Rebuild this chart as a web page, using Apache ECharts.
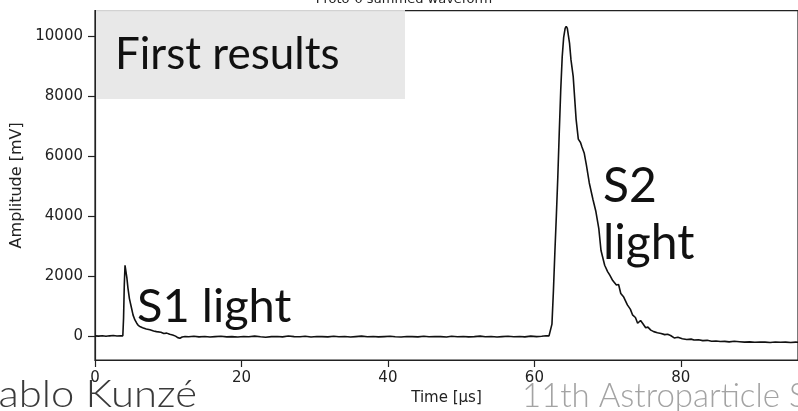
<!DOCTYPE html>
<html>
<head>
<meta charset="utf-8">
<script src="https://cdn.jsdelivr.net/npm/echarts@6/dist/echarts.min.js"></script>
<style>
  html, body { margin: 0; padding: 0; background: #ffffff; }
  #chart { width: 798px; height: 411px; }
</style>
</head>
<body>
<div id="chart"></div>
<script>
// Summed PMT waveform: time in microseconds, amplitude in mV
const timeUs = [
  0.0, 0.5, 1.0, 1.5, 2.0, 2.5, 3.0, 3.5, 3.8,
  3.9, 4.0, 4.1, 4.2, 4.35, 4.5, 4.7, 5.0, 5.2, 5.45, 5.7, 5.9, 6.2, 6.5,
  7.0, 7.5, 8.0, 8.4, 9.0, 9.4, 9.8, 10.2, 10.6, 11.0, 11.3, 11.6, 11.9, 12.3,
  12.8, 13.5, 14.2, 15.0, 15.7, 16.4, 17.2, 18.0, 18.7, 19.5, 20.3, 21.0,
  21.8, 22.6, 23.3, 24.1, 24.9, 25.6, 26.4, 27.2, 28.0, 28.7, 29.5, 30.3,
  31.0, 31.8, 32.6, 33.3, 34.1, 34.9, 35.6, 36.4, 37.2, 38.0, 38.7, 39.5,
  40.3, 41.0, 41.8, 42.6, 43.3, 44.1, 44.9, 45.6, 46.4, 47.2, 48.0, 48.7,
  49.5, 50.3, 51.0, 51.8, 52.6, 53.3, 54.1, 54.9, 55.6, 56.4, 57.2, 58.0,
  58.7, 59.5, 60.3, 61.0, 61.6, 62.0, 62.25,
  62.4, 62.6, 62.8, 63.0, 63.2, 63.4, 63.6, 63.8, 64.0, 64.2, 64.35,
  64.5, 64.8, 65.0, 65.3, 65.7, 66.0, 66.3, 66.5, 66.8, 67.1, 67.5, 68.0,
  68.4, 68.8, 69.1, 69.6, 70.0, 70.3, 70.7, 71.2, 71.5, 71.8, 72.2, 72.7,
  73.1, 73.4, 73.8, 74.1, 74.5, 74.8, 75.2, 75.5, 75.9, 76.3, 76.8, 77.3,
  77.8, 78.2, 78.6, 79.1, 79.6, 80.2, 80.8, 81.4, 81.8, 82.4, 83.0, 83.6,
  84.2, 84.8, 85.4, 86.0, 86.6, 87.3, 88.0, 88.7, 89.4, 90.1, 90.8, 91.5,
  92.2, 92.9, 93.6, 94.3, 95.0, 95.7, 96.0
];

const amplitudeMv = [
  10, 0, 15, -5, 10, 20, 5, 15, 10,
  600, 1700, 2360, 2300, 1950, 1600, 1250, 920, 700, 540, 430, 360, 310, 280,
  240, 210, 170, 150, 130, 90, 100, 60, 40, 0, -50, -70, -30, -10,
  -20, -5, -25, -10, -30, -15, -5, -25, -15, -30, -10, -20,
  0, -20, -35, -15, -10, -25, 5, -15, -20, -5, -30, -10,
  -15, -25, -5, -20, -10, -30, -15, 0, -20, -10, -25, -15,
  -5, -20, -30, -10, -15, -25, -5, -20, -10, -15, -30, -5,
  -20, -10, -25, -15, 0, -20, -10, -30, -15, -5, -20, -10,
  -25, 0, -15, -5, 10, 10, 40,
  400, 1500, 2800, 4000, 5300, 6800, 8200, 9300, 9950, 10250, 10320,
  10250, 9760, 9200, 8650, 7220, 6560, 6450, 6300, 6100, 5700, 5100, 4550,
  4150, 3580, 2850, 2360, 2150, 2030, 1850, 1700, 1720, 1420, 1300, 1040,
  900, 710, 620, 430, 520, 420, 280, 300, 200, 150, 110, 90,
  50, 60, 20, -60, -40, -90, -110, -100, -130, -120, -150, -140,
  -170, -160, -180, -175, -190, -170, -185, -200, -190, -205, -195, -200,
  -210, -195, -205, -200, -210, -200, -205
];

// Axis ticks and labels
const xTicks = [0, 20, 40, 60, 80];
const yTicks = [0, 2000, 4000, 6000, 8000, 10000];

const xRange = [0, 96];
const yRange = [-795, 10838];

const plotTitle = 'Proto-0 summed waveform';
const xName = 'Time [μs]';
const yName = 'Amplitude [mV]';

const chart = echarts.init(document.getElementById('chart'), null, { renderer: 'canvas' });

const tickFont = {
  fontFamily: 'DejaVu Sans',
  fontSize: 15,
  color: '#222'
};

const points = timeUs.map((t, i) => [t, amplitudeMv[i]]);

chart.setOption({
  animation: false,
  backgroundColor: '#ffffff',
  grid: {
    left: 95,
    right: -3,
    top: 10.7,
    bottom: 49,
    show: true,
    borderColor: '#222',
    borderWidth: 1.2,
    backgroundColor: 'transparent'
  },
  xAxis: {
    type: 'value',
    min: xRange[0],
    max: xRange[1],
    interval: 20,
    name: xName,
    nameLocation: 'middle',
    nameGap: 31,
    nameTextStyle: tickFont,
    axisLine: { show: true, onZero: false, lineStyle: { color: '#222', width: 1.2 } },
    axisTick: { show: true, length: 7, lineStyle: { color: '#222', width: 1.2 }, customValues: xTicks },
    axisLabel: Object.assign({ margin: 11, customValues: xTicks, formatter: v => String(v) }, tickFont),
    splitLine: { show: false }
  },
  yAxis: {
    type: 'value',
    min: yRange[0],
    max: yRange[1],
    name: yName,
    nameLocation: 'middle',
    nameGap: 69,
    nameRotate: 90,
    nameTextStyle: Object.assign({}, tickFont, { fontSize: 16 }),
    axisLine: { show: true, onZero: false, lineStyle: { color: '#222', width: 1.2 } },
    axisTick: { show: true, length: 7, lineStyle: { color: '#222', width: 1.2 }, customValues: yTicks },
    axisLabel: Object.assign({ margin: 12, customValues: yTicks, formatter: v => String(v) }, tickFont),
    splitLine: { show: false }
  },
  series: [{
    type: 'line',
    data: points,
    showSymbol: false,
    smooth: false,
    lineStyle: { color: '#111', width: 1.6 },
    z: 3
  }],
  graphic: [
    {
      type: 'text',
      style: {
        text: plotTitle,
        x: 404,
        y: 6,
        textAlign: 'center',
        textVerticalAlign: 'bottom',
        fontFamily: 'DejaVu Sans',
        fontSize: 13,
        fill: '#222'
      }
    },
    {
      type: 'rect',
      shape: { x: 96, y: 10, width: 309, height: 89 },
      style: { fill: '#e5e5e5', opacity: 0.9 },
      z: 10
    },
    {
      type: 'text',
      z: 11,
      style: {
        text: 'First results',
        x: 115, y: 77,
        textVerticalAlign: 'bottom',
        fontFamily: 'Lato',
        fontSize: 44,
        fill: '#111'
      }
    },
    {
      type: 'text',
      z: 11,
      style: {
        text: 'S1 light',
        x: 137, y: 283,
        fontFamily: 'Lato',
        fontSize: 47,
        fill: '#111'
      }
    },
    {
      type: 'text',
      z: 11,
      style: {
        text: 'S2',
        x: 603, y: 163,
        fontFamily: 'Lato',
        fontSize: 48,
        fill: '#111'
      }
    },
    {
      type: 'text',
      z: 11,
      style: {
        text: 'light',
        x: 603, y: 220,
        fontFamily: 'Lato',
        fontSize: 48,
        fill: '#111'
      }
    },
    {
      type: 'text',
      z: 11,
      x: 197,
      y: 376,
      scaleX: 1.1,
      style: {
        text: 'Pablo Kunzé',
        x: 0, y: 0,
        textAlign: 'right',
        fontFamily: 'Lato',
        fontWeight: 300,
        fontSize: 38,
        fill: '#3a3a3a'
      }
    },
    {
      type: 'text',
      z: 11,
      style: {
        text: '11th Astroparticle Symposium',
        x: 522, y: 380,
        fontFamily: 'Lato',
        fontWeight: 300,
        fontSize: 33,
        fill: '#a3a3a3'
      }
    }
  ]
});
</script>
</body>
</html>
